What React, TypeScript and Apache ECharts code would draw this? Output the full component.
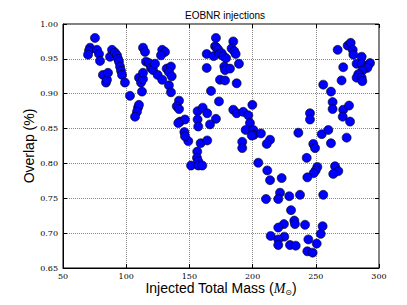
import React, { useEffect, useRef } from "react";
import * as echarts from "echarts";

const chartTitle = "EOBNR injections";
const xTicks = [50, 100, 150, 200, 250, 300];
const yTicks = [0.65, 0.7, 0.75, 0.8, 0.85, 0.9, 0.95, 1.0];

// low-mass cluster
const massLow = [75.3, 71.4, 70.6, 69.8, 76.9, 78.5, 79.3, 81.6, 84.0, 84.8, 85.6, 88.8, 87.2, 91.1, 92.7, 93.5, 94.3, 95.1, 95.9, 96.7, 99.0, 103.0, 110.1, 111.7, 113.3, 109.3, 110.1, 108.5, 107.0, 113.3, 114.9, 115.7, 113.3, 112.5, 118.0, 119.6, 121.2, 128.5, 130.7, 127.5, 122.8, 132.0, 135.4, 133.8, 136.0, 124.9, 128.5, 133.8, 135.4];
const overlapLow = [0.980, 0.966, 0.962, 0.956, 0.963, 0.957, 0.947, 0.927, 0.916, 0.920, 0.930, 0.963, 0.953, 0.959, 0.955, 0.950, 0.946, 0.939, 0.933, 0.927, 0.916, 0.897, 0.923, 0.916, 0.921, 0.880, 0.884, 0.874, 0.867, 0.966, 0.960, 0.946, 0.930, 0.903, 0.944, 0.937, 0.934, 0.963, 0.960, 0.955, 0.943, 0.936, 0.939, 0.931, 0.925, 0.927, 0.920, 0.912, 0.902];

// dip around 150
const massDip1 = [141.8, 140.0, 141.8, 142.6, 146.5, 141.2, 146.0, 149.1, 156.5, 160.5, 164.1, 156.5, 171.0, 157.0, 166.3, 158.9, 164.1, 146.5, 156.2, 156.0, 157.0, 151.3, 157.0, 160.2];
const overlapDip1 = [0.890, 0.882, 0.878, 0.860, 0.863, 0.858, 0.845, 0.832, 0.875, 0.880, 0.872, 0.863, 0.864, 0.853, 0.856, 0.829, 0.833, 0.839, 0.817, 0.808, 0.803, 0.797, 0.797, 0.797];

// mid-mass cluster
const massMid = [163.7, 163.7, 167.1, 171.0, 170.3, 171.6, 169.2, 172.9, 173.7, 175.6, 176.8, 179.0, 177.6, 178.2, 182.1, 174.2, 178.2, 184.7, 183.4, 185.5, 186.6, 189.2, 187.4, 173.4, 184.7, 187.4, 192.6, 196.6, 199.8, 197.9, 194.5, 200.6, 201.1, 206.6, 199.3, 191.8, 191.8, 204.5];
const overlapMid = [0.957, 0.937, 0.904, 0.980, 0.968, 0.966, 0.954, 0.963, 0.957, 0.958, 0.954, 0.951, 0.939, 0.934, 0.936, 0.920, 0.919, 0.975, 0.965, 0.961, 0.957, 0.943, 0.915, 0.889, 0.877, 0.872, 0.874, 0.869, 0.884, 0.858, 0.848, 0.848, 0.841, 0.843, 0.840, 0.831, 0.822, 0.801];

// high-mass cluster
const massHigh = [267.3, 275.2, 277.6, 279.2, 279.7, 286.3, 282.3, 286.3, 291.5, 292.9, 290.7, 286.8, 283.6, 282.3, 286.3, 286.8, 271.7, 270.4, 255.9, 262.0, 263.3, 263.3, 271.7, 276.3, 271.3, 277.1, 245.4, 245.4, 236.2, 213.8, 211.2, 254.7, 259.9, 248.0, 262.0, 274.4, 249.4, 242.8, 251.2, 249.9, 248.3, 243.3, 265.2, 267.8, 263.8];
const overlapHigh = [0.963, 0.969, 0.973, 0.963, 0.956, 0.953, 0.943, 0.943, 0.941, 0.944, 0.937, 0.933, 0.928, 0.923, 0.923, 0.918, 0.938, 0.919, 0.913, 0.903, 0.888, 0.878, 0.877, 0.883, 0.867, 0.860, 0.872, 0.863, 0.844, 0.834, 0.828, 0.842, 0.848, 0.828, 0.829, 0.837, 0.822, 0.808, 0.795, 0.790, 0.786, 0.780, 0.796, 0.789, 0.785];

// deep dip around 230
const massDip2 = [211.6, 213.8, 223.0, 210.6, 221.7, 220.3, 229.0, 237.5, 255.9, 230.4, 233.0, 233.5, 224.8, 220.3, 241.5, 255.4, 253.9, 214.3, 225.1, 220.3, 220.3, 244.1, 229.6, 234.1, 250.7, 243.3, 247.5];
const overlapDip2 = [0.790, 0.776, 0.779, 0.749, 0.758, 0.749, 0.753, 0.755, 0.755, 0.733, 0.718, 0.713, 0.713, 0.708, 0.712, 0.710, 0.699, 0.696, 0.695, 0.691, 0.683, 0.691, 0.683, 0.682, 0.685, 0.674, 0.672];

const masses = [...massLow, ...massDip1, ...massMid, ...massHigh, ...massDip2];
const overlaps = [...overlapLow, ...overlapDip1, ...overlapMid, ...overlapHigh, ...overlapDip2];

export default function App() {
  const ref = useRef<HTMLDivElement>(null);
  useEffect(() => {
    if (!ref.current) return;
    const chart = echarts.init(ref.current, null, { renderer: "svg" });
    const data = masses.map((m, i) => [m, overlaps[i]]);
    const tickFont = { fontFamily: "DejaVu Serif", fontSize: 8, color: "#000" };
    const gridLine = { show: true, lineStyle: { color: "#888", type: "dotted" as const, width: 1 } };
    chart.setOption({
      animation: false,
      backgroundColor: "#fff",
      title: {
        text: chartTitle,
        left: 220,
        top: 5,
        textAlign: "center",
        textStyle: { fontFamily: "Liberation Sans", fontSize: 10, fontWeight: "normal", color: "#000" },
      },
      grid: { left: 63, right: 28, top: 24, bottom: 37, show: true, borderColor: "#000", borderWidth: 1, backgroundColor: "transparent" },
      xAxis: [
        {
          type: "value",
          min: xTicks[0],
          max: xTicks[xTicks.length - 1],
          interval: 50,
          name: "Injected Total Mass ({it|M}{sub|⊙})",
          nameLocation: "middle",
          nameGap: 12,
          nameMoveOverlap: false,
          nameTextStyle: {
            fontFamily: "Liberation Sans",
            fontSize: 14,
            color: "#000",
            rich: {
              it: { fontFamily: "Liberation Serif", fontStyle: "italic", fontSize: 14, color: "#000" },
              sub: { fontFamily: "DejaVu Sans", fontSize: 8, color: "#000", padding: [8, 0, 0, 0] },
            },
          },
          axisLine: { show: true, lineStyle: { color: "#000", width: 1 } },
          axisTick: { show: true, inside: true, length: 4, lineStyle: { color: "#000" } },
          axisLabel: { ...tickFont, margin: 4 },
          splitLine: gridLine,
        },
        {
          type: "value",
          position: "top",
          min: xTicks[0],
          max: xTicks[xTicks.length - 1],
          interval: 50,
          axisLine: { show: false },
          axisTick: { show: true, inside: true, length: 4, lineStyle: { color: "#000" } },
          axisLabel: { show: false },
          splitLine: { show: false },
        },
      ],
      yAxis: [
        {
          type: "value",
          min: yTicks[0],
          max: yTicks[yTicks.length - 1],
          interval: 0.05,
          name: "Overlap (%)",
          nameLocation: "middle",
          nameGap: 27,
          nameMoveOverlap: false,
          nameTextStyle: { fontFamily: "Liberation Sans", fontSize: 14, color: "#000" },
          axisLine: { show: true, lineStyle: { color: "#000", width: 1 } },
          axisTick: { show: true, inside: true, length: 4, lineStyle: { color: "#000" } },
          axisLabel: { ...tickFont, margin: 5, formatter: (v: number) => v.toFixed(2) },
          splitLine: gridLine,
        },
        {
          type: "value",
          position: "right",
          min: yTicks[0],
          max: yTicks[yTicks.length - 1],
          interval: 0.05,
          axisLine: { show: false },
          axisTick: { show: true, inside: true, length: 4, lineStyle: { color: "#000" } },
          axisLabel: { show: false },
          splitLine: { show: false },
        },
      ],
      series: [
        {
          type: "scatter",
          data,
          symbol: "circle",
          symbolSize: 9,
          itemStyle: { color: "#0000ff", borderColor: "#000", borderWidth: 0.6, opacity: 1 },
        },
      ],
    });
    return () => chart.dispose();
  }, []);
  return <div ref={ref} style={{ width: 407, height: 305, position: "absolute", left: 0, top: 0 }} />;
}
